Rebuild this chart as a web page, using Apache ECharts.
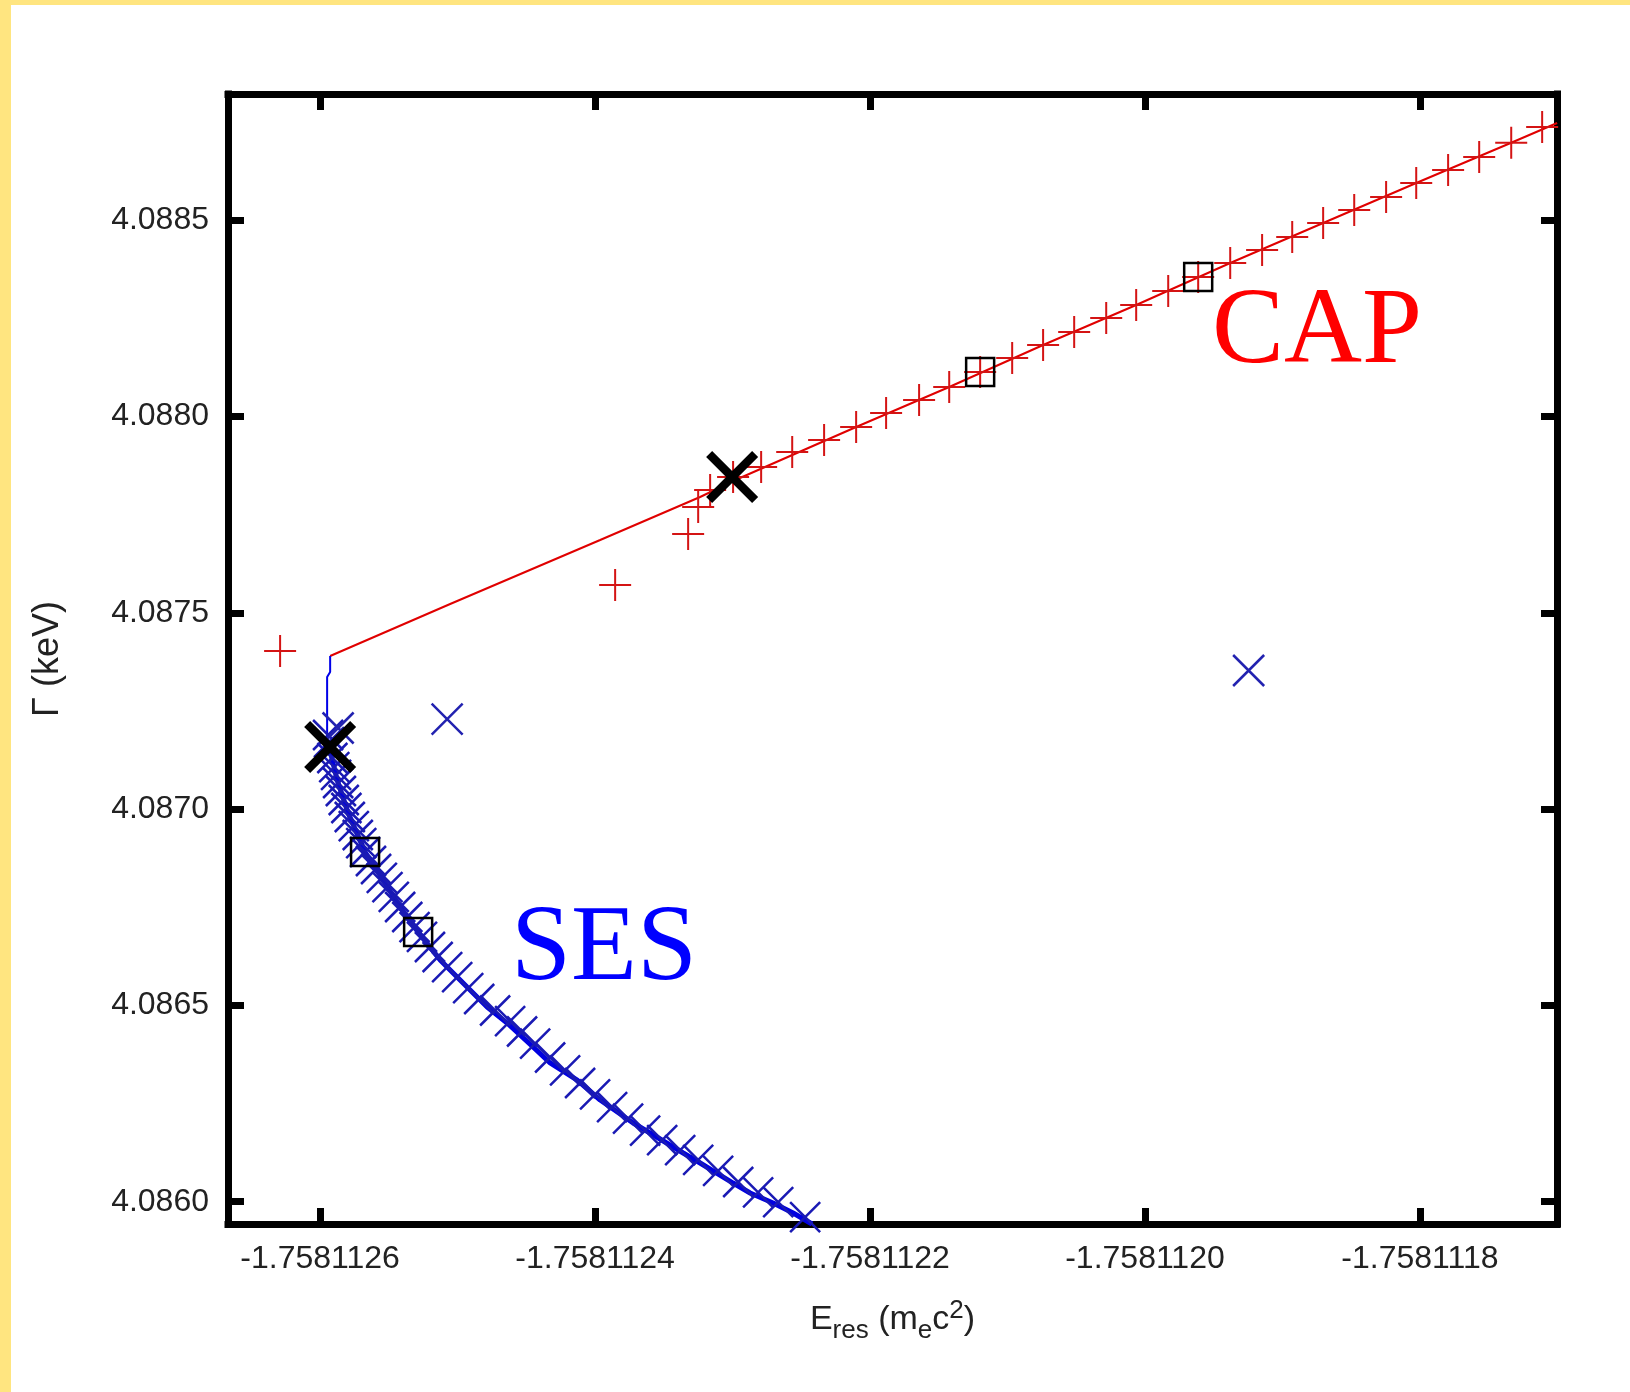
<!DOCTYPE html>
<html lang="en">
<head>
<meta charset="UTF-8">
<title>CAP / SES</title>
<script src="https://cdn.jsdelivr.net/npm/echarts@6/dist/echarts.min.js"></script>
<style>
    html, body { margin: 0; padding: 0; background: #ffe580; }
    #chart { position: absolute; left: 11px; top: 5px; width: 1619px; height: 1387px; background: #fff; }
</style>
</head>
<body>
<div id="chart"></div>
<script>
    // tick positions
    var xTicks = [-1.7581126, -1.7581124, -1.7581122, -1.7581120, -1.7581118];
    var yTicks = [4.0860, 4.0865, 4.0870, 4.0875, 4.0880, 4.0885];

    // CAP trajectory (red line)
    var capLine = [
        [-1.7581125927, 4.0873902], [-1.7581125054, 4.0875227], [-1.7581123963, 4.0876857],
        [-1.7581123236, 4.0877953], [-1.7581122996, 4.0878360], [-1.7581122101, 4.0879736],
        [-1.7581121424, 4.0880755], [-1.7581120741, 4.0881825], [-1.7581120064, 4.0882844],
        [-1.7581119380, 4.0883914], [-1.7581118704, 4.0884933], [-1.7581118027, 4.0885952],
        [-1.7581117336, 4.0886979], [-1.7581117002, 4.0887481]
    ];
    // CAP points (red +)
    var capPoints = [
        [-1.7581126291, 4.0874030], [-1.7581123854, 4.0875711], [-1.7581123323, 4.0877010],
        [-1.7581123250, 4.0877698], [-1.7581123163, 4.0878131], [-1.7581122996, 4.0878462],
        [-1.7581122792, 4.0878717], [-1.7581122566, 4.0879099], [-1.7581122334, 4.0879405],
        [-1.7581122101, 4.0879736], [-1.7581121883, 4.0880093], [-1.7581121643, 4.0880424],
        [-1.7581121424, 4.0880755], [-1.7581121199, 4.0881137], [-1.7581120966, 4.0881494],
        [-1.7581120741, 4.0881825], [-1.7581120515, 4.0882156], [-1.7581120282, 4.0882513],
        [-1.7581120064, 4.0882844], [-1.7581119831, 4.0883201], [-1.7581119613, 4.0883558],
        [-1.7581119380, 4.0883914], [-1.7581119148, 4.0884246], [-1.7581118929, 4.0884577],
        [-1.7581118704, 4.0884933], [-1.7581118478, 4.0885265], [-1.7581118246, 4.0885595],
        [-1.7581118027, 4.0885952], [-1.7581117795, 4.0886283], [-1.7581117569, 4.0886615],
        [-1.7581117336, 4.0886979], [-1.7581117111, 4.0887379]
    ];

    // SES trajectory (blue line)
    var sesLine = [
        [-1.7581125927, 4.0873902], [-1.7581125927, 4.0873495], [-1.7581125949, 4.0873367],
        [-1.7581125949, 4.0871762], [-1.7581125920, 4.0871380], [-1.7581125876, 4.0870743],
        [-1.7581125796, 4.0869903], [-1.7581125673, 4.0868909], [-1.7581125542, 4.0868196],
        [-1.7581125418, 4.0867508], [-1.7581125287, 4.0866871], [-1.7581125127, 4.0866158],
        [-1.7581124931, 4.0865470], [-1.7581124785, 4.0864960], [-1.7581124640, 4.0864553],
        [-1.7581124451, 4.0863941], [-1.7581124327, 4.0863534], [-1.7581124130, 4.0863100],
        [-1.7581123963, 4.0862591], [-1.7581123723, 4.0862005], [-1.7581123600, 4.0861750],
        [-1.7581123359, 4.0861241], [-1.7581123236, 4.0860986], [-1.7581122996, 4.0860476],
        [-1.7581122872, 4.0860222], [-1.7581122705, 4.0859967], [-1.7581122559, 4.0859712],
        [-1.7581122422, 4.0859432]
    ];
    // SES points (blue x)
    var sesPoints = [
        [-1.7581125942, 4.0871890], [-1.7581125935, 4.0871711], [-1.7581125923, 4.0871507],
        [-1.7581125911, 4.0871304], [-1.7581125897, 4.0871074], [-1.7581125884, 4.0870871],
        [-1.7581125869, 4.0870667], [-1.7581125849, 4.0870463], [-1.7581125828, 4.0870234],
        [-1.7581125809, 4.0870030], [-1.7581125784, 4.0869801], [-1.7581125755, 4.0869571],
        [-1.7581125726, 4.0869342], [-1.7581125701, 4.0869138], [-1.7581125673, 4.0868909],
        [-1.7581125630, 4.0868680], [-1.7581125593, 4.0868476], [-1.7581125551, 4.0868247],
        [-1.7581125510, 4.0868017], [-1.7581125464, 4.0867763], [-1.7581125418, 4.0867508],
        [-1.7581125366, 4.0867253], [-1.7581125313, 4.0866998], [-1.7581125259, 4.0866744],
        [-1.7581125201, 4.0866489], [-1.7581125145, 4.0866234], [-1.7581125076, 4.0865979],
        [-1.7581125003, 4.0865724], [-1.7581124923, 4.0865444], [-1.7581124843, 4.0865164],
        [-1.7581124727, 4.0864871], [-1.7581124618, 4.0864603], [-1.7581124531, 4.0864336],
        [-1.7581124436, 4.0864025], [-1.7581124327, 4.0863674], [-1.7581124218, 4.0863348],
        [-1.7581124109, 4.0863024], [-1.7581124000, 4.0862734], [-1.7581123876, 4.0862407],
        [-1.7581123760, 4.0862117], [-1.7581123636, 4.0861811], [-1.7581123512, 4.0861567],
        [-1.7581123381, 4.0861317], [-1.7581123250, 4.0861067], [-1.7581123105, 4.0860787],
        [-1.7581122959, 4.0860502], [-1.7581122814, 4.0860239], [-1.7581122668, 4.0859992],
        [-1.7581122472, 4.0859605]
    ];
    var sesStray = [
        [-1.7581125869, 4.0872068], [-1.7581125076, 4.0872297], [-1.7581119246, 4.0873533]
    ];

    // black squares and the two big black crosses
    var squarePoints = [
        [-1.7581121199, 4.0881137], [-1.7581119613, 4.0883558],
        [-1.7581125673, 4.0868909], [-1.7581125287, 4.0866871]
    ];
    var bigCross = [[-1.7581123003, 4.0878462], [-1.7581125927, 4.0871584]];

    var xMin = -1.7581126670, xMax = -1.7581117003;
    var yMin = 4.0859432, yMax = 4.0888220;

    var labelFont = "'Liberation Sans', Arial, sans-serif";
    var plusPath = 'path://M10,0L10,20M0,10L20,10';
    var crossPath = 'path://M0,0L20,20M20,0L0,20';

    function frameAxis(ticks, showLabels, digits, extra) {
        var ax = {
            type: 'value',
            axisLine: { onZero: false, lineStyle: { color: '#000', width: 7, cap: 'square' } },
            axisTick: { inside: true, length: 16, customValues: ticks, lineStyle: { color: '#000', width: 7 } },
            axisLabel: {
                show: showLabels, customValues: ticks, margin: 19,
                fontSize: 32, fontFamily: labelFont, color: '#222',
                formatter: function (v) { return v.toFixed(digits); }
            },
            splitLine: { show: false }
        };
        return Object.assign(ax, extra);
    }

    // scatter series are drawn at 0.8 opacity by default, force full colour
    function marks(color, width) {
        return { color: 'rgba(0,0,0,0)', borderColor: color, borderWidth: width, opacity: 1 };
    }

    var chart = echarts.init(document.getElementById('chart'));
    chart.setOption({
        animation: false,
        grid: { left: 217, right: 73, top: 89, bottom: 168, outerBoundsMode: 'none' },
        xAxis: [
            frameAxis(xTicks, true, 7, {
                position: 'bottom', min: xMin, max: xMax,
                name: 'E{sub|res} (m{sub|e}c{sup|2})', nameLocation: 'middle', nameGap: 72,
                nameTextStyle: {
                    fontSize: 34, fontFamily: labelFont, color: '#222',
                    rich: {
                        sub: { fontSize: 26, fontFamily: labelFont, color: '#222', padding: [22, 0, 0, 0] },
                        sup: { fontSize: 26, fontFamily: labelFont, color: '#222', padding: [0, 0, 18, 0] }
                    }
                }
            }),
            frameAxis(xTicks, false, 7, { position: 'top', min: xMin, max: xMax })
        ],
        yAxis: [
            frameAxis(yTicks, true, 4, {
                position: 'left', min: yMin, max: yMax,
                name: 'Γ (keV)', nameLocation: 'middle', nameRotate: 90, nameGap: 162,
                nameTextStyle: { fontSize: 36, fontFamily: labelFont, color: '#222' }
            }),
            frameAxis(yTicks, false, 4, { position: 'right', min: yMin, max: yMax })
        ],
        series: [
            {
                type: 'line', data: capLine, showSymbol: false, z: 2,
                lineStyle: { color: '#e00000', width: 2 }
            },
            {
                type: 'scatter', data: capPoints, symbol: plusPath, symbolSize: 32, z: 3,
                itemStyle: marks('#d41414', 2)
            },
            {
                type: 'line', data: sesLine, showSymbol: false, z: 4,
                lineStyle: { color: '#0000e8', width: 2 }
            },
            {
                // thick core of the SES band where the markers pile up
                type: 'line', data: sesLine.slice(3), showSymbol: false, z: 4,
                lineStyle: { color: '#0000e0', width: 5 }
            },
            {
                type: 'scatter', data: sesPoints, symbol: crossPath, symbolSize: 30, z: 5,
                itemStyle: marks('#1a1ab4', 2.5)
            },
            {
                type: 'scatter', data: sesStray, symbol: crossPath, symbolSize: 31, z: 5,
                itemStyle: marks('#2222b0', 2.5)
            },
            {
                type: 'scatter', data: squarePoints, symbol: 'rect', symbolSize: 28, z: 6,
                itemStyle: marks('#000', 2.5)
            },
            {
                type: 'scatter', data: bigCross, symbol: crossPath, symbolSize: 46, z: 7,
                itemStyle: marks('#000', 8.5)
            }
        ],
        graphic: [
            {
                type: 'text', x: 1201, y: 329, z: 10,
                style: { text: 'CAP', fill: '#ff0000', font: "108px 'Liberation Serif', serif", verticalAlign: 'middle' }
            },
            {
                type: 'text', x: 500, y: 946, z: 10,
                style: { text: 'SES', fill: '#0000ff', font: "108px 'Liberation Serif', serif", verticalAlign: 'middle' }
            }
        ]
    });
</script>
</body>
</html>
